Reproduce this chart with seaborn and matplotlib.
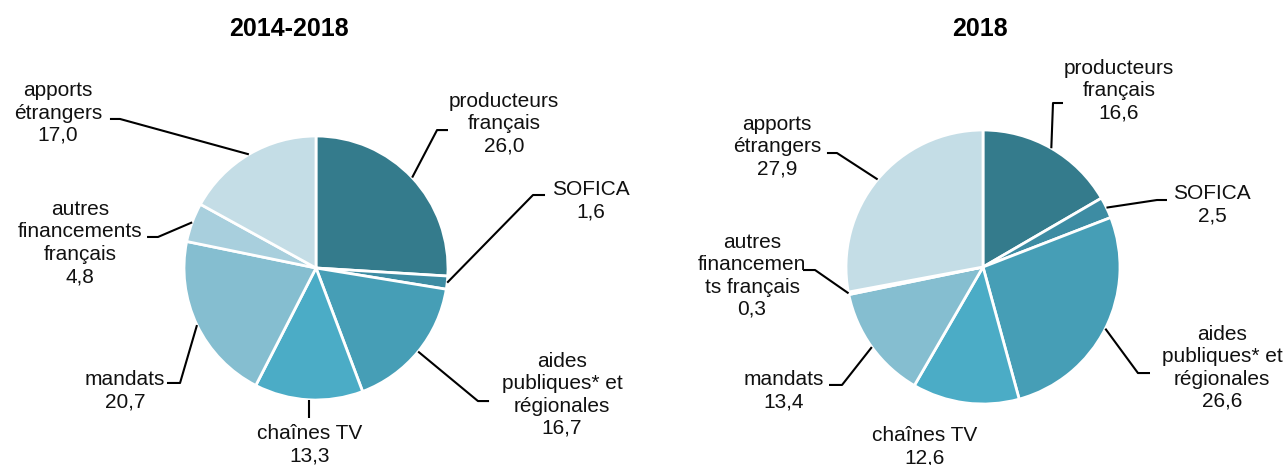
import numpy as np
import matplotlib
matplotlib.use("Agg")
import matplotlib.pyplot as plt
import seaborn as sns

# data
labels_left = ["producteurs\nfrançais", "SOFICA", "aides\npubliques* et\nrégionales",
               "chaînes TV", "mandats", "autres\nfinancements\nfrançais", "apports\nétrangers"]
labels_right = ["producteurs\nfrançais", "SOFICA", "aides\npubliques* et\nrégionales",
                "chaînes TV", "mandats", "autres\nfinancemen\nts français", "apports\nétrangers"]
values_left = [26.0, 1.6, 16.7, 13.3, 20.7, 4.8, 17.0]
values_right = [16.6, 2.5, 26.6, 12.6, 13.4, 0.3, 27.9]
titles = ["2014-2018", "2018"]

colors = sns.color_palette(["#347B8C", "#3D8CA3", "#469EB6", "#4BACC6",
                            "#85BED0", "#A8CFDD", "#C4DDE6"])

sns.set_theme(style="white")
plt.rcParams["font.family"] = ["Liberation Sans", "DejaVu Sans"]

# label layout: (elbow, end of horizontal tick, text centre) in pie units, None = no leader
layout_left = [
    ((0.917, 1.045), (1.0, 1.045), (1.424, 1.091)),
    ((1.644, 0.553), (1.735, 0.553), (2.083, 0.508)),
    ((1.227, -1.008), (1.311, -1.008), (1.864, -0.962)),
    ("vert", -1.136, (-0.045, -1.341)),
    ((-1.030, -0.871), (-1.129, -0.871), (-1.447, -0.932)),
    ((-1.197, 0.235), (-1.280, 0.235), (-1.788, 0.189)),
    ((-1.485, 1.129), (-1.561, 1.129), (-1.955, 1.174)),
]
layout_right = [
    ((0.511, 1.197), (0.584, 1.197), (0.993, 1.285)),
    ((1.270, 0.489), (1.343, 0.489), (1.672, 0.453)),
    ((1.131, -0.774), (1.219, -0.774), (1.745, -0.737)),
    (None, None, (-0.423, -1.314)),
    ((-1.029, -0.861), (-1.124, -0.861), (-1.453, -0.905)),
    ((-1.226, -0.022), (-1.314, -0.022), (-1.686, -0.066)),
    ((-1.066, 0.832), (-1.139, 0.832), (-1.504, 0.876)),
]

fig = plt.figure(figsize=(12.86, 4.65), dpi=100)

# axes placed so each pie sits where it does in the picture (px per unit = radius)
panels = [
    dict(rect=[0, 0, 640 / 1286, 1], cx=316, cy=268, r=132, x0=0, x1=640,
         values=values_left, labels=labels_left, layout=layout_left, tx=289),
    dict(rect=[643 / 1286, 0, 643 / 1286, 1], cx=983, cy=267, r=137, x0=643, x1=1286,
         values=values_right, labels=labels_right, layout=layout_right, tx=980),
]

for p, title in zip(panels, titles):
    ax = fig.add_axes(p["rect"])
    r = p["r"]
    wedges, _ = ax.pie(p["values"], colors=colors, startangle=90, counterclock=False,
                       radius=1.0, wedgeprops=dict(edgecolor="white", linewidth=2))
    # pie() resets the limits, so set them afterwards
    ax.set_xlim(-(p["cx"] - p["x0"]) / r, (p["x1"] - p["cx"]) / r)
    ax.set_ylim(-(465 - p["cy"]) / r, p["cy"] / r)
    ax.set_aspect("equal", adjustable="box")
    ax.set_axis_off()
    for w, lab, val, lay in zip(wedges, p["labels"], p["values"], p["layout"]):
        mid = np.deg2rad((w.theta1 + w.theta2) / 2)
        ex, ey = np.cos(mid), np.sin(mid)
        elbow, hend, tc = lay
        if elbow == "vert":
            ax.plot([ex, ex], [ey, hend], color="black", lw=1.5, solid_capstyle="butt")
        elif elbow is not None:
            ax.plot([ex, elbow[0], hend[0]], [ey, elbow[1], hend[1]], color="black",
                    lw=1.5, solid_capstyle="butt")
        txt = lab + "\n" + f"{val:.1f}".replace(".", ",")
        ax.text(tc[0], tc[1], txt, ha="center", va="center", multialignment="center",
                fontsize=15, linespacing=1.22, color="#111111")
    fig.text(p["tx"] / 1286, 1 - 29 / 465, title, ha="center", va="center",
             fontsize=18, fontweight="bold", color="black")

fig.savefig("out.png", dpi=100)
